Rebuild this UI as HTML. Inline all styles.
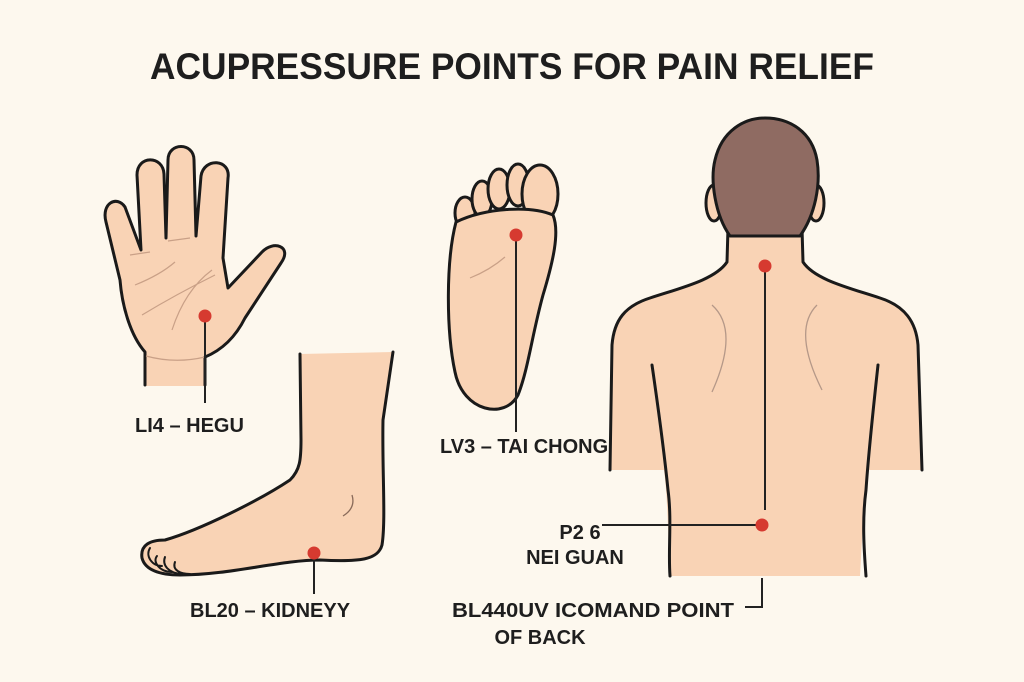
<!DOCTYPE html>
<html><head><meta charset="utf-8"><style>
html,body{margin:0;padding:0;background:#fdf8ee;}
svg{display:block}
text{font-family:"Liberation Sans",sans-serif;font-weight:bold;fill:#1e1e1e}
</style></head><body>
<svg width="1024" height="682" viewBox="0 0 1024 682" xmlns="http://www.w3.org/2000/svg">
<rect width="1024" height="682" fill="#fdf8ee"/>
<text x="512" y="79" font-size="37" text-anchor="middle" textLength="724" lengthAdjust="spacingAndGlyphs">ACUPRESSURE POINTS FOR PAIN RELIEF</text>

<!-- Hand -->
<g stroke="#1a1a1a" stroke-width="3" fill="#f9d3b5" stroke-linejoin="round" stroke-linecap="round">
<rect x="146" y="350" width="58" height="36" stroke="none"/>
<path d="M145,385 L145,352 C130,335 122,305 120,280 L106,222 C101,203 117,195 125,207 L141,250 L137,175 C137,155 163,155 164,174 L166,238 L168,160 C168,142 194,142 194,160 L196,236 L201,176 C204,157 231,159 228,178 L223,258 L228,288 L262,252 C273,240 293,246 281,263 L245,318 C235,338 222,350 205,357 L205,385" />
</g>
<path d="M146,356 Q175,364 205,357" stroke="#c9a087" stroke-width="1.2" fill="none"/>
<path d="M135,285 Q160,275 175,262 M142,315 Q175,295 215,275 M172,330 Q185,290 212,270 M130,255 L150,252 M168,241 L190,238" stroke="#c9a087" stroke-width="1.2" fill="none"/>
<line x1="205" y1="316" x2="205" y2="403" stroke="#222" stroke-width="2"/>
<circle cx="205" cy="316" r="6.5" fill="#d63a30"/>
<text x="135" y="432" font-size="20">LI4 – HEGU</text>

<!-- Side foot -->
<g stroke="#1a1a1a" stroke-width="3" fill="#f9d3b5" stroke-linejoin="round" stroke-linecap="round">
<path d="M300,354 L393,352 L383,420 C382,470 386,520 382,545 C378,560 360,562 320,560 C280,560 230,575 180,575 C160,575 145,570 142,558 C140,545 150,540 165,540 C200,530 260,500 290,480 C300,470 301,460 301,440 Z" stroke="none"/>
<path d="M300,354 L301,440 C301,460 300,470 290,480 C260,500 200,530 165,540 C150,540 140,545 142,558 C145,570 160,575 180,575 C230,575 280,560 320,560 C360,562 378,560 382,545 C386,520 382,470 383,420 L393,352" fill="none"/>
<path d="M150,548 C145,556 152,566 162,566 M157,556 C152,562 160,572 172,572 M165,557 C162,565 168,573 182,574 M175,562 C172,570 180,574 190,574" fill="none" stroke-width="2"/>
</g>
<path d="M352,495 Q356,508 343,516" stroke="#8a6b5a" stroke-width="1.3" fill="none"/>
<line x1="314" y1="553" x2="314" y2="594" stroke="#222" stroke-width="2"/>
<circle cx="314" cy="553" r="6.5" fill="#d63a30"/>
<text x="190" y="617" font-size="20">BL20 – KIDNEYY</text>

<!-- Sole -->
<g stroke="#1a1a1a" stroke-width="3" fill="#f9d3b5" stroke-linejoin="round">
<ellipse cx="465" cy="213" rx="10" ry="16"/>
<ellipse cx="482" cy="199" rx="10" ry="18"/>
<ellipse cx="499" cy="189" rx="11" ry="20"/>
<ellipse cx="518" cy="185" rx="11" ry="21"/>
<ellipse cx="540" cy="194" rx="18" ry="29"/>
<path d="M456,222 C446,260 446,330 455,372 C463,412 505,420 518,395 C528,370 532,335 543,295 C553,262 560,232 553,215 C530,205 485,208 456,222 Z"/>
</g>
<path d="M470,278 Q490,270 505,257" stroke="#c9a087" stroke-width="1.2" fill="none"/>
<line x1="516" y1="235" x2="516" y2="432" stroke="#222" stroke-width="2"/>
<circle cx="516" cy="235" r="6.5" fill="#d63a30"/>
<text x="440" y="453" font-size="20">LV3 – TAI CHONG</text>

<!-- Back figure -->
<g stroke="#1a1a1a" stroke-width="3" stroke-linejoin="round" stroke-linecap="round">
<path d="M728,228 L727,262 C715,280 680,288 650,298 C625,306 614,320 612,345 L610,470 L664,470 C668,500 668,540 670,576 L860,576 C862,540 864,500 867,470 L922,470 L918,345 C916,322 905,306 880,298 C850,288 815,280 803,262 L802,228 Z" fill="#f9d3b5" stroke="none"/>
<path d="M728,228 L727,262 C715,280 680,288 650,298 C625,306 614,320 612,345 L610,470" fill="none"/>
<path d="M802,228 L803,262 C815,280 850,288 880,298 C905,306 916,322 918,345 L922,470" fill="none"/>
<path d="M652,365 C660,420 665,460 668,490 C672,520 668,550 670,576" fill="none"/>
<path d="M878,365 C872,420 868,460 866,490 C862,520 864,550 866,576" fill="none"/>
<ellipse cx="714" cy="203" rx="8" ry="18" fill="#f9d3b5"/>
<ellipse cx="816" cy="203" rx="8" ry="18" fill="#f9d3b5"/>
<path d="M730,236 C715,215 710,180 715,160 C722,130 745,118 765,118 C790,118 812,132 817,160 C821,185 815,215 800,236 Z" fill="#8f6b62"/>
</g>
<path d="M712,305 Q740,330 712,392 M817,305 Q792,330 822,390" stroke="#b59888" stroke-width="1.3" fill="none"/>
<line x1="765" y1="266" x2="765" y2="510" stroke="#222" stroke-width="2"/>
<circle cx="765" cy="266" r="6.5" fill="#d63a30"/>
<line x1="602" y1="525" x2="762" y2="525" stroke="#222" stroke-width="2"/>
<circle cx="762" cy="525" r="6.5" fill="#d63a30"/>
<path d="M762,578 L762,607 L745,607" stroke="#222" stroke-width="2" fill="none"/>
<text x="580" y="539" font-size="20" text-anchor="middle">P2 6</text>
<text x="575" y="564" font-size="20" text-anchor="middle">NEI GUAN</text>
<text x="452" y="617" font-size="20" textLength="282" lengthAdjust="spacingAndGlyphs">BL440UV ICOMAND POINT</text>
<text x="540" y="644" font-size="20" text-anchor="middle">OF BACK</text>
</svg>
</body></html>
